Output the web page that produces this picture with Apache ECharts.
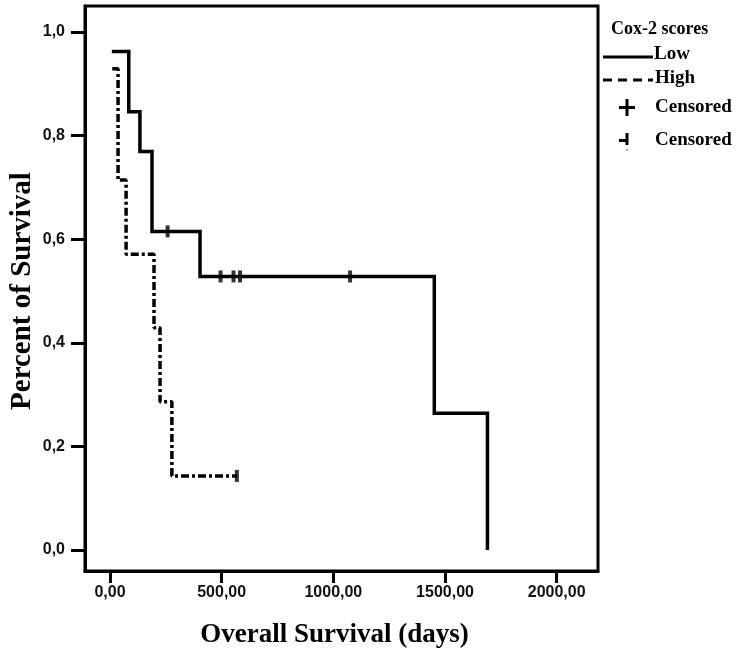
<!DOCTYPE html>
<html>
<head>
<meta charset="utf-8">
<script src="https://cdn.jsdelivr.net/npm/echarts@6/dist/echarts.min.js"></script>
<style>html,body{margin:0;padding:0;background:#fff}#c{width:741px;height:655px}</style>
</head>
<body>
<div id="c"></div>
<script>
// Kaplan-Meier data
const lowTimes = [8, 84, 134, 188, 403, 1452, 1690];
const lowSurv = [0.962, 0.846, 0.769, 0.615, 0.528, 0.264, 0];
const lowCensorTimes = [258, 495, 553, 582, 1075];
const lowCensorSurv = [0.615, 0.528, 0.528, 0.528, 0.528];
const highTimes = [10, 36, 72, 197, 224, 277, 568];
const highSurv = [0.929, 0.714, 0.571, 0.429, 0.286, 0.143, 0.143];
const highCensorTimes = [568];
const highCensorSurv = [0.143];
const xTicks = [0, 500, 1000, 1500, 2000];
const yTicks = [0, 0.2, 0.4, 0.6, 0.8, 1.0];
const yTitle = 'Percent of Survival';

const zip = (a, b) => a.map((v, i) => [v, b[i]]);
const serif = 'Liberation Serif, DejaVu Serif, serif';
const sans = 'Liberation Sans, Arial, sans-serif';

const chart = echarts.init(document.getElementById('c'));
chart.setOption({
  animation: false,
  backgroundColor: '#fff',
  grid: { left: 85, right: 143, top: 6, bottom: 84, containLabel: false, outerBoundsMode: 'none',
    show: true, borderColor: '#000', borderWidth: 3, backgroundColor: 'transparent' },
  xAxis: {
    type: 'value', min: -112, max: 2185,
    name: 'Overall Survival (days)', nameLocation: 'middle', nameGap: 51, nameMoveOverlap: false,
    nameTextStyle: { fontFamily: serif, fontWeight: 'bold', fontSize: 27, color: '#000', padding: [0, 14, 0, 0] },
    axisLine: { show: true, onZero: false, lineStyle: { color: '#000', width: 3 } },
    axisTick: { show: true, length: 12, lineStyle: { color: '#000', width: 3 }, customValues: xTicks },
    axisLabel: { customValues: xTicks, margin: 14, fontFamily: sans, fontWeight: 'bold', fontSize: 16, color: '#111',
      formatter: v => v.toFixed(2).replace('.', ',') },
    splitLine: { show: false }
  },
  yAxis: {
    type: 'value', min: -0.0405, max: 1.050,
    axisLine: { show: true, onZero: false, lineStyle: { color: '#000', width: 3 } },
    axisTick: { show: true, length: 14, lineStyle: { color: '#000', width: 3 }, customValues: yTicks },
    axisLabel: { customValues: yTicks, margin: 20, fontFamily: sans, fontWeight: 'bold', fontSize: 16, color: '#111',
      formatter: v => v.toFixed(1).replace('.', ',') },
    splitLine: { show: false }
  },
  series: [
    { name: 'Low', type: 'line', step: 'end', data: zip(lowTimes, lowSurv), showSymbol: false,
      lineStyle: { color: '#000', width: 3.5, cap: 'butt', join: 'miter' } },
    { name: 'High', type: 'line', step: 'end', data: zip(highTimes, highSurv), showSymbol: false,
      lineStyle: { color: '#000', width: 3.5, type: [8, 3, 3, 3], cap: 'butt' } },
    { name: 'Censored', type: 'scatter', data: zip(lowCensorTimes, lowCensorSurv), symbol: 'rect', symbolSize: [4, 12],
      itemStyle: { color: '#000' } },
    { name: 'Censored2', type: 'scatter', data: zip(highCensorTimes, highCensorSurv), symbol: 'rect', symbolSize: [4, 12],
      itemStyle: { color: '#000' } }
  ],
  graphic: [
    { type: 'text', x: 23, y: 291, rotation: Math.PI / 2,
      style: { text: yTitle, font: 'bold 29px ' + serif, fill: '#000', align: 'center', verticalAlign: 'middle' } },
    { type: 'text', left: 611, top: 20, style: { text: 'Cox-2 scores', font: 'bold 18px ' + serif, fill: '#000' } },
    { type: 'line', shape: { x1: 603, y1: 57, x2: 653, y2: 57 }, style: { stroke: '#000', lineWidth: 3 } },
    { type: 'text', left: 654, top: 45, style: { text: 'Low', font: 'bold 19px ' + serif, fill: '#000' } },
    { type: 'line', shape: { x1: 603, y1: 80, x2: 653, y2: 80 }, style: { stroke: '#000', lineWidth: 3, lineDash: [9, 6] } },
    { type: 'text', left: 655, top: 69, style: { text: 'High', font: 'bold 19px ' + serif, fill: '#000' } },
    { type: 'rect', shape: { x: 619, y: 106, width: 16, height: 3 }, style: { fill: '#000' } },
    { type: 'rect', shape: { x: 625.5, y: 99, width: 3, height: 17 }, style: { fill: '#000' } },
    { type: 'text', left: 655, top: 98, style: { text: 'Censored', font: 'bold 19px ' + serif, fill: '#000' } },
    { type: 'rect', shape: { x: 619, y: 139, width: 8, height: 3 }, style: { fill: '#000' } },
    { type: 'rect', shape: { x: 625.5, y: 133, width: 3, height: 12 }, style: { fill: '#000' } },
    { type: 'rect', shape: { x: 626, y: 149, width: 2, height: 2 }, style: { fill: '#aaa' } },
    { type: 'text', left: 655, top: 131, style: { text: 'Censored', font: 'bold 19px ' + serif, fill: '#000' } }
  ]
});
</script>
</body>
</html>
